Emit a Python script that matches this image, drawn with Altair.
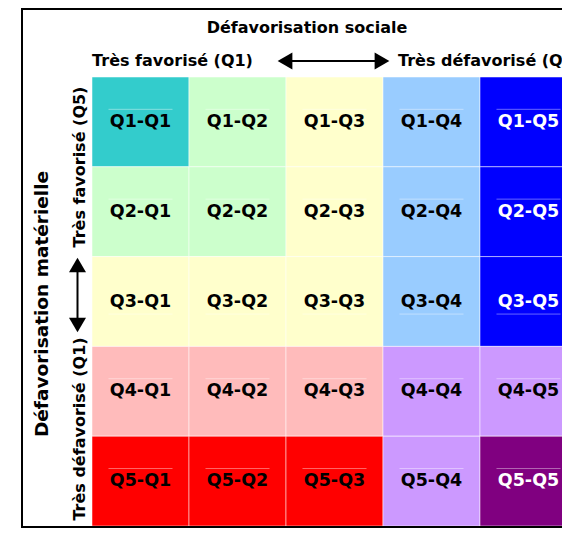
import altair as alt
import pandas as pd

# ---- data -------------------------------------------------------------
row_quintiles = ["Q1", "Q2", "Q3", "Q4", "Q5"]   # défavorisation matérielle
col_quintiles = ["Q1", "Q2", "Q3", "Q4", "Q5"]   # défavorisation sociale

cell_colors = [
    ["#33CCCC", "#CCFFCC", "#FFFFCC", "#99CCFF", "#0000FF"],
    ["#CCFFCC", "#CCFFCC", "#FFFFCC", "#99CCFF", "#0000FF"],
    ["#FFFFCC", "#FFFFCC", "#FFFFCC", "#99CCFF", "#0000FF"],
    ["#FFBBBB", "#FFBBBB", "#FFBBBB", "#CC99FF", "#CC99FF"],
    ["#FF0000", "#FF0000", "#FF0000", "#CC99FF", "#800080"],
]
white_labels = ["Q1-Q5", "Q2-Q5", "Q3-Q5", "Q5-Q5"]
rule_side = ["above", "above", "below", "above", "above"]

title_top = "Défavorisation sociale"
top_left = "Très favorisé (Q1)"
top_right = "Très défavorisé (Q5)"
title_left = "Défavorisation matérielle"
left_top = "Très favorisé (Q5)"
left_bottom = "Très défavorisé (Q1)"

# ---- table ------------------------------------------------------------
recs = []
for r, rq in enumerate(row_quintiles):
    for c, cq in enumerate(col_quintiles):
        lab = f"{rq}-{cq}"
        recs.append(dict(
            r=r, r2=r + 1, c=c, c2=c + 1, rc=r + 0.5, cc=c + 0.5,
            label=lab, fill=cell_colors[r][c],
            tcolor="white" if lab in white_labels else "black",
            ly=r + (0.36 if rule_side[r] == "above" else 0.64),
            lx=c + 0.17, lx2=c + 0.83,
        ))
df = pd.DataFrame(recs)

FONT = "DejaVu Sans"
xs = alt.Scale(domain=[0, 5], range=[84, 569])
ys = alt.Scale(domain=[0, 5], range=[69, 518])

base = alt.Chart(df)
cells = base.mark_rect(stroke="white", strokeWidth=1, strokeOpacity=0.5).encode(
    x=alt.X("c:Q", scale=xs, axis=None), x2="c2",
    y=alt.Y("r:Q", scale=ys, axis=None), y2="r2",
    fill=alt.Color("fill:N", scale=None),
)
lines = base.mark_rule(color="white", strokeWidth=1, opacity=0.4).encode(
    x=alt.X("lx:Q", scale=xs, axis=None), x2="lx2",
    y=alt.Y("ly:Q", scale=ys, axis=None),
)
labels = base.mark_text(font=FONT, fontWeight="bold", fontSize=17.5,
                        baseline="middle").encode(
    x=alt.X("cc:Q", scale=xs, axis=None),
    y=alt.Y("rc:Q", scale=ys, axis=None),
    text="label:N",
    color=alt.Color("tcolor:N", scale=None),
)

one = alt.Data(values=[{"k": 1}])


def txt(s, x, y, size=16, angle=0, align="center"):
    return alt.Chart(one).mark_text(
        text=s, font=FONT, fontWeight="bold", fontSize=size, angle=angle,
        align=align, baseline="middle", color="black",
    ).encode(x=alt.value(x), y=alt.value(y))


def head(shape, x, y):
    return alt.Chart(one).mark_point(
        shape=shape, filled=True, size=290, color="black", opacity=1,
    ).encode(x=alt.value(x), y=alt.value(y))


frame = alt.Chart(one).mark_rect(fillOpacity=0, stroke="black", strokeWidth=2).encode(
    x=alt.value(14), x2=alt.value(700), y=alt.value(1), y2=alt.value(519)
)

harrow = alt.Chart(one).mark_rule(color="black", strokeWidth=2).encode(
    x=alt.value(276), x2=alt.value(375), y=alt.value(53)
)
varrow = alt.Chart(one).mark_rule(color="black", strokeWidth=2).encode(
    x=alt.value(69.5), y=alt.value(256), y2=alt.value(318)
)

chart = alt.layer(
    cells, lines, labels, frame,
    txt(title_top, 299, 20),
    txt(top_left, 164.5, 53),
    txt(top_right, 390, 53, align="left"),
    txt(title_left, 34, 296, size=18.5, angle=270),
    txt(left_top, 72, 159, angle=270),
    txt(left_bottom, 72, 421, angle=270),
    harrow, head("triangle-left", 277, 53), head("triangle-right", 374, 53),
    varrow, head("triangle-up", 69.5, 257), head("triangle-down", 69.5, 317),
).properties(
    width=554, height=520,
    autosize=alt.AutoSizeParams(type="none"),
    padding=0,
    background="white",
).configure_view(stroke=None)

chart.save("out.html", embed_options={"renderer": "svg", "actions": False})
